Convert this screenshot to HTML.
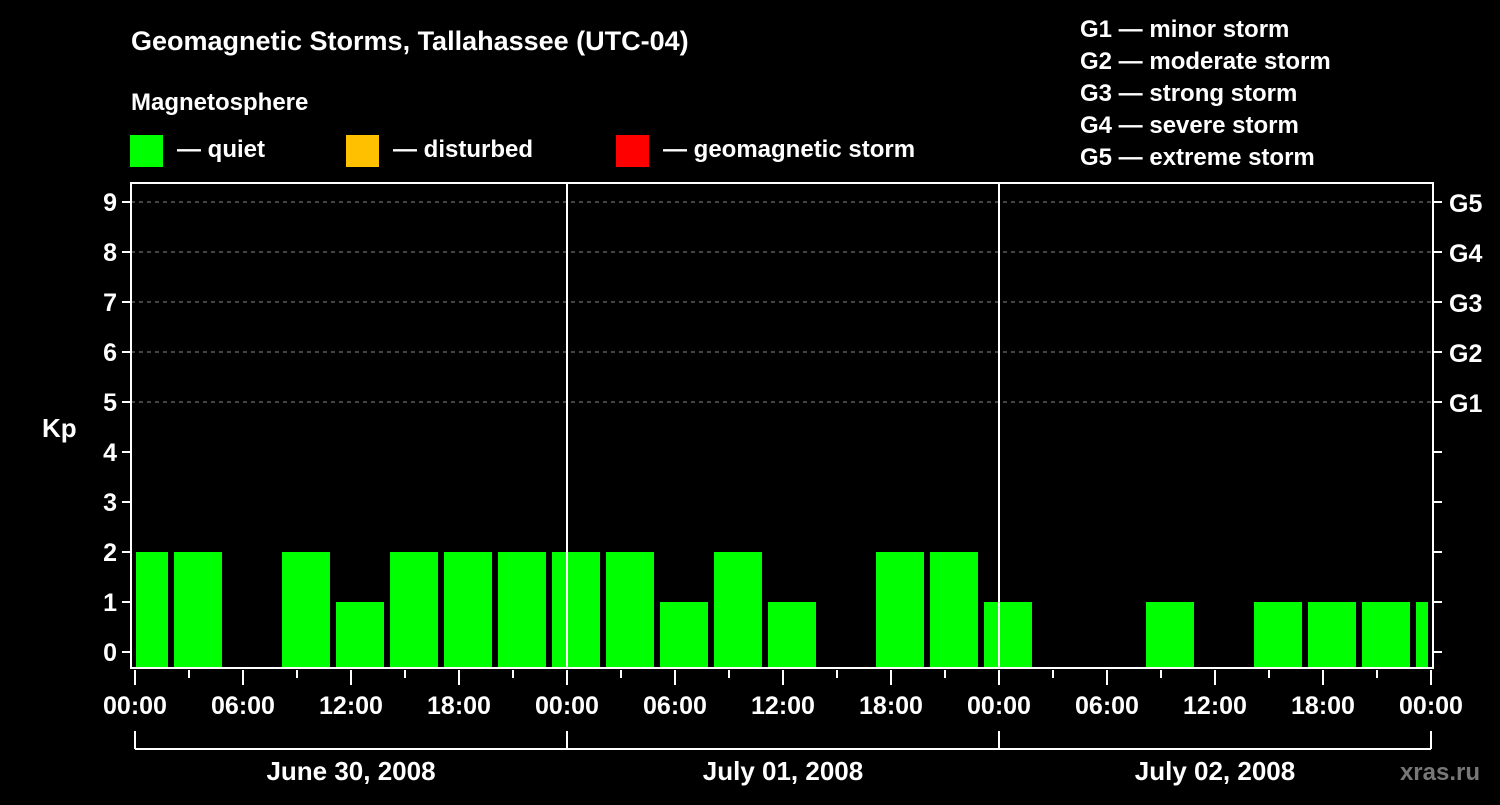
<!DOCTYPE html>
<html><head><meta charset="utf-8"><style>
body{margin:0;background:#000;width:1500px;height:800px;overflow:hidden}
svg{font-family:"Liberation Sans",Arial,sans-serif;font-weight:bold;fill:#fff}
</style></head><body>
<svg id="c" width="1500" height="800">
<text x="131" y="50" font-size="27">Geomagnetic Storms, Tallahassee (UTC-04)</text>
<text x="131" y="110" font-size="24">Magnetosphere</text>
<rect x="130" y="135" width="33" height="32" fill="#00ff00"/>
<text x="177" y="157" font-size="24">— quiet</text>
<rect x="346" y="135" width="33" height="32" fill="#ffc000"/>
<text x="393" y="157" font-size="24">— disturbed</text>
<rect x="616" y="135" width="33" height="32" fill="#ff0000"/>
<text x="663" y="157" font-size="24">— geomagnetic storm</text>
<g font-size="24">
<text x="1080" y="37">G1 — minor storm</text>
<text x="1080" y="69">G2 — moderate storm</text>
<text x="1080" y="101">G3 — strong storm</text>
<text x="1080" y="133">G4 — severe storm</text>
<text x="1080" y="165">G5 — extreme storm</text>
</g>
<text x="42" y="437" font-size="26">Kp</text>
<text x="1480" y="780" font-size="24" fill="#777" text-anchor="end" style="fill:#777">xras.ru</text>
<g id="plot"></g>
</svg>
<script>
const kpValues=[2,2,0,2,1,2,2,2,2,2,1,2,1,0,2,2,1,0,0,1,0,1,1,1,1];
const kpTicks=[0,1,2,3,4,5,6,7,8,9];
const stormLabels=["G1","G2","G3","G4","G5"];
const timeLabels=["00:00","06:00","12:00","18:00","00:00","06:00","12:00","18:00","00:00","06:00","12:00","18:00","00:00"];
const dateLabels=["June 30, 2008","July 01, 2008","July 02, 2008"];
const L=131,R=1433,T=183,B=668,X0=135;
const y=v=>652-50*v;
const xh=h=>X0+18*h;
const g=document.getElementById('plot');
const NS='http://www.w3.org/2000/svg';
function mk(t,a){const e=document.createElementNS(NS,t);for(const k in a)e.setAttribute(k,a[k]);g.appendChild(e);return e;}
kpTicks.forEach(v=>{
 if(v>=5){const l=mk('line',{x1:L,x2:R,y1:y(v),y2:y(v),stroke:'#888','stroke-dasharray':'4,4','stroke-width':1});
 
 }
 const t1=mk('line',{x1:L-9,x2:L,y1:y(v),y2:y(v),stroke:'#fff','stroke-width':2});
 
 
 const t2=mk('line',{x1:R,x2:R+9,y1:y(v),y2:y(v),stroke:'#fff','stroke-width':2});
 
 
 const tx=mk('text',{x:L-14,y:y(v)+9,'font-size':25,'text-anchor':'end'});tx.textContent=v;
 
 
});
stormLabels.forEach((s,i)=>{const tx=mk('text',{x:R+16,y:y(5+i)+10,'font-size':25});tx.textContent=s;
 
 });
kpValues.forEach((v,i)=>{if(v<=0)return;
 let x0=xh(3*i)-15,x1=x0+48;x0=Math.max(x0,L+5);x1=Math.min(x1,R-5);
 const r=mk('rect',{x:x0,y:y(v),width:x1-x0,height:B-y(v),fill:v>=5?'#ff0000':v>=4?'#ffc000':'#00ff00'});
 
 });
[1,2].forEach(d=>{const l=mk('line',{x1:xh(24*d),x2:xh(24*d),y1:T,y2:B,stroke:'#fff','stroke-width':2});
 
 });
const f=mk('rect',{x:L,y:T,width:R-L,height:B-T,fill:'none',stroke:'#fff','stroke-width':2});


for(let h=0;h<=72;h+=3){const maj=h%6===0;
 const l=mk('line',{x1:xh(h),x2:xh(h),y1:B+2,y2:B+(maj?17:10),stroke:'#fff','stroke-width':2});
 
 }
timeLabels.forEach((s,i)=>{const tx=mk('text',{x:xh(6*i),y:714,'font-size':25,'text-anchor':'middle'});tx.textContent=s;
 
 });
const bl=mk('line',{x1:xh(0),x2:xh(72),y1:749,y2:749,stroke:'#fff','stroke-width':2});


[0,1,2,3].forEach(d=>{const l=mk('line',{x1:xh(24*d),x2:xh(24*d),y1:731,y2:749,stroke:'#fff','stroke-width':2});
 
 });
dateLabels.forEach((s,i)=>{const tx=mk('text',{x:xh(24*i+12),y:780,'font-size':26,'text-anchor':'middle'});tx.textContent=s;
 
 });
</script>
</body></html>
